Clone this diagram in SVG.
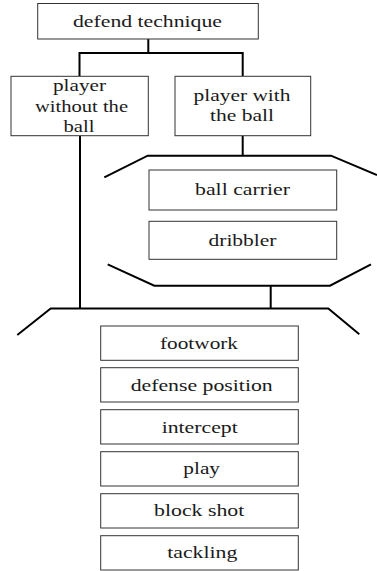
<svg xmlns="http://www.w3.org/2000/svg" width="377" height="571" viewBox="0 0 377 571">
<style>
.box{fill:#fff;stroke:#333;stroke-width:1}
.t{font-family:'Liberation Serif','Times New Roman','DejaVu Serif',Times,serif;font-size:17px;fill:#1a1a1a;text-anchor:middle}
.c{fill:none;stroke:#000;stroke-width:2;stroke-linejoin:miter}
</style>
<rect width="377" height="571" fill="#fff"/>
<g id="connectors">
<path class="c" d="M148.3,39 V53 M79.5,76 V53 H242.7 V76"/>
<path class="c" d="M242.7,135.7 V155.7 M104.3,177.3 L147.7,155.7 H331 L377,175"/>
<path class="c" d="M107.7,264.3 L154.3,285.7 H330 L371,264.3 M270.7,285.7 V308.5"/>
<path class="c" d="M80,135.7 V308.5 M17.3,335 L50.7,308.5 H328.3 L359.3,334.3"/>
</g>
<g id="defend-technique" font-family="Liberation Serif, serif">
<rect class="box" x="37.7" y="3.5" width="220.6" height="35.5"/>
<text class="t" x="147.5" y="26.7" textLength="149" lengthAdjust="spacingAndGlyphs">defend technique</text>
</g>
<g id="player-without-ball">
<rect class="box" x="11" y="76.3" width="137.3" height="59.4"/>
<text class="t" x="79.5" y="90.5" textLength="53" lengthAdjust="spacingAndGlyphs">player</text>
<text class="t" x="81.5" y="111.5" textLength="93" lengthAdjust="spacingAndGlyphs">without the</text>
<text class="t" x="79" y="131.5" textLength="31" lengthAdjust="spacingAndGlyphs">ball</text>
</g>
<g id="player-with-ball">
<rect class="box" x="175" y="76.3" width="135.7" height="59.4"/>
<text class="t" x="242" y="100.5" textLength="97" lengthAdjust="spacingAndGlyphs">player with</text>
<text class="t" x="242" y="120.5" textLength="64" lengthAdjust="spacingAndGlyphs">the ball</text>
</g>
<g id="ball-carrier">
<rect class="box" x="149" y="170" width="187.7" height="40"/>
<text class="t" x="242.5" y="195.3" textLength="95" lengthAdjust="spacingAndGlyphs">ball carrier</text>
</g>
<g id="dribbler">
<rect class="box" x="149" y="221.3" width="187.7" height="38"/>
<text class="t" x="242.5" y="246" textLength="68" lengthAdjust="spacingAndGlyphs">dribbler</text>
</g>
<g id="footwork">
<rect class="box" x="100.7" y="326" width="197.6" height="34.3"/>
<text class="t" x="199" y="349" textLength="78" lengthAdjust="spacingAndGlyphs">footwork</text>
</g>
<g id="defense-position">
<rect class="box" x="100.7" y="367.7" width="197.6" height="34.3"/>
<text class="t" x="201.7" y="391" textLength="142" lengthAdjust="spacingAndGlyphs">defense position</text>
</g>
<g id="intercept">
<rect class="box" x="100.7" y="409.7" width="197.6" height="34.3"/>
<text class="t" x="199.7" y="432.7" textLength="76" lengthAdjust="spacingAndGlyphs">intercept</text>
</g>
<g id="play">
<rect class="box" x="100.7" y="451.7" width="197.6" height="34.3"/>
<text class="t" x="201.7" y="474.3" textLength="36.7" lengthAdjust="spacingAndGlyphs">play</text>
</g>
<g id="block-shot">
<rect class="box" x="100.7" y="493.7" width="197.6" height="34.3"/>
<text class="t" x="199.2" y="516" textLength="90.3" lengthAdjust="spacingAndGlyphs">block shot</text>
</g>
<g id="tackling">
<rect class="box" x="100.7" y="535.7" width="197.6" height="34.3"/>
<text class="t" x="202.3" y="558.3" textLength="70" lengthAdjust="spacingAndGlyphs">tackling</text>
</g>
</svg>
